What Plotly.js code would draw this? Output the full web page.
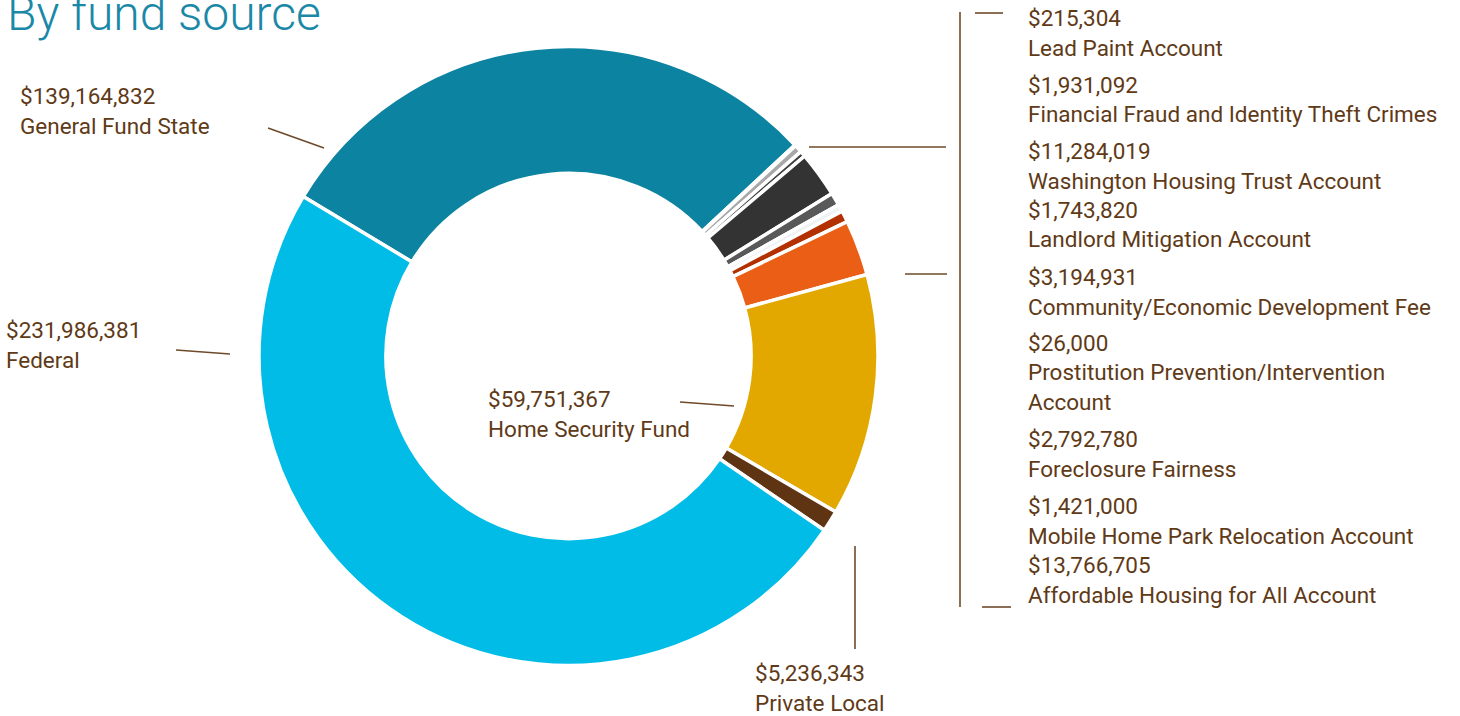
<!DOCTYPE html>
<html>
<head>
<meta charset="utf-8">
<script src="https://cdn.plot.ly/plotly-3.0.1.min.js"></script>
<style>html,body{margin:0;padding:0;background:#fff;}#chart{width:1460px;height:716px;}</style>
</head>
<body>
<div id="chart"></div>
<script>
// ---- data (slice order, clockwise from the General Fund State slice) ----
const fundNames = [
  "General Fund State",
  "Lead Paint Account",
  "Financial Fraud and Identity Theft Crimes",
  "Mobile Home Park Relocation Account",
  "Washington Housing Trust Account",
  "Community/Economic Development Fee",
  "Prostitution Prevention/Intervention Account",
  "Landlord Mitigation Account",
  "Foreclosure Fairness",
  "Affordable Housing for All Account",
  "Home Security Fund",
  "Private Local",
  "Federal"
];
const fundValues = [
  139164832,
  215304,
  1931092,
  1421000,
  11284019,
  3194931,
  26000,
  1743820,
  2792780,
  13766705,
  59751367,
  5236343,
  231986381
];
const sliceColors = [
  "#0c83a0", "#c8c8c8", "#a8a8a8", "#404040", "#333333", "#595959",
  "#9fb6c9", "#eef2f5", "#b33000", "#ea5f15", "#e2a800", "#5e3412", "#00bce7"
];

// ---- helpers ----
const W = 1460, H = 716;
const px = x => x / W;
const py = y => 1 - y / H;
const money = v => "$" + v.toLocaleString("en-US");
const idx = n => fundNames.indexOf(n);

const textColor = "#5f3a17";
const lineColor = "#6e4a2a";
const labelFont = {family: "Roboto, 'Open Sans', sans-serif", size: 22.5, color: textColor};

// label placement: [name, left x, y of first line, optional wrapped name lines]
const labelPlacement = [
  ["General Fund State", 20, 96],
  ["Federal", 6, 330],
  ["Home Security Fund", 488, 399],
  ["Private Local", 755, 673],
  ["Lead Paint Account", 1028, 18],
  ["Financial Fraud and Identity Theft Crimes", 1028, 85],
  ["Washington Housing Trust Account", 1028, 151],
  ["Landlord Mitigation Account", 1028, 210],
  ["Community/Economic Development Fee", 1028, 277],
  ["Prostitution Prevention/Intervention Account", 1028, 343, ["Prostitution Prevention/Intervention", "Account"]],
  ["Foreclosure Fairness", 1028, 439],
  ["Mobile Home Park Relocation Account", 1028, 506],
  ["Affordable Housing for All Account", 1028, 565]
];
const lineGap = 29.5;

const annotations = [];
labelPlacement.forEach(p => {
  const name = p[0], x = p[1], y0 = p[2];
  const lines = [money(fundValues[idx(name)])].concat(p[3] || [name]);
  lines.forEach((t, k) => {
    annotations.push({
      text: t, xref: "paper", yref: "paper",
      x: px(x - 2), y: py(y0 + k * lineGap),
      xanchor: "left", yanchor: "middle", showarrow: false,
      font: labelFont
    });
  });
});
annotations.push({
  text: "By fund source", xref: "paper", yref: "paper",
  x: px(5), y: py(13), xanchor: "left", yanchor: "middle", showarrow: false,
  font: {family: "Roboto, sans-serif", size: 48, weight: 300, color: "#1b88a7"}
});

const seg = (x0, y0, x1, y1) => ({
  type: "line", xref: "paper", yref: "paper",
  x0: px(x0), y0: py(y0), x1: px(x1), y1: py(y1),
  line: {color: lineColor, width: 1.6}
});
const shapes = [
  seg(268, 128, 324, 148),
  seg(176, 350, 230, 354),
  seg(680, 402, 734, 406),
  seg(855, 546, 855, 649),
  seg(960, 12, 960, 607),
  seg(975, 13, 1003, 13),
  seg(982, 607, 1011, 607),
  seg(809, 147, 946, 147),
  seg(905, 274, 947, 274)
];

const trace = {
  type: "pie",
  labels: fundNames,
  values: fundValues,
  sort: false,
  direction: "clockwise",
  rotation: -59,
  hole: 0.59,
  textinfo: "none",
  hoverinfo: "label+value+percent",
  marker: {colors: sliceColors, line: {color: "#ffffff", width: 3.5}},
  domain: {x: [px(259), px(878)], y: [py(666), py(46)]},
  showlegend: false
};

Plotly.newPlot("chart", [trace], {
  width: W, height: H,
  margin: {l: 0, r: 0, t: 0, b: 0},
  paper_bgcolor: "#ffffff",
  plot_bgcolor: "#ffffff",
  showlegend: false,
  annotations: annotations,
  shapes: shapes
}, {displayModeBar: false, staticPlot: true});
</script>
</body>
</html>
